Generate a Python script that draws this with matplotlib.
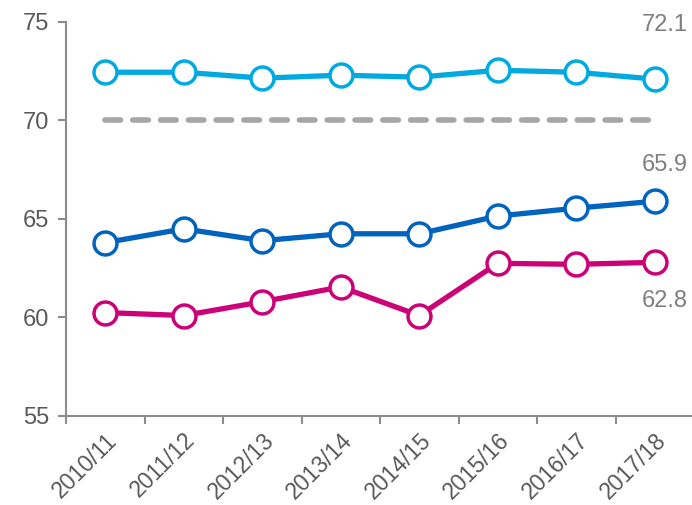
import matplotlib.pyplot as plt
import numpy as np

plt.rcParams['font.family'] = ['Liberation Sans', 'DejaVu Sans']

years = ['2010/11', '2011/12', '2012/13', '2013/14', '2014/15', '2015/16', '2016/17', '2017/18']
light = [72.45, 72.45, 72.15, 72.3, 72.2, 72.55, 72.45, 72.1]
dark = [63.8, 64.5, 63.9, 64.25, 64.25, 65.15, 65.55, 65.9]
pink = [60.25, 60.1, 60.8, 61.55, 60.1, 62.75, 62.7, 62.8]
target = [70] * len(years)

grey = '#7f7f7f'
fig = plt.figure(figsize=(6.92, 5.05), dpi=100)
ax = fig.add_axes([66 / 692, 89 / 505, 628 / 692, 394 / 505])

x = np.arange(len(years))
ax.plot(x, target, color='#a6a6a6', lw=4, dashes=(2.8, 2.2), dash_capstyle='round')
for vals, col in [(light, '#00a9e0'), (dark, '#0063be'), (pink, '#cc0077')]:
    ax.plot(x, vals, color=col, lw=3.8, marker='o', ms=16.5, mfc='white', mec=col, mew=2.5,
            solid_capstyle='round', clip_on=False)

for vals, dy in [(light, 39), (dark, 26), (pink, -28)]:
    ax.annotate(f'{vals[-1]:.1f}', (x[-1], vals[-1]), xytext=(24, dy), textcoords='offset points',
                ha='right', va='center', color=grey, fontsize=17)

ax.set_xlim(-0.5, len(years) - 0.5)
ax.set_ylim(55, 75)
ax.set_yticks([55, 60, 65, 70, 75])
ax.set_xticks(x - 0.5, minor=False)
ax.set_xticklabels([])
ax.set_xticks(x, minor=True)
ax.set_xticklabels(years, minor=True, rotation=45, ha='right', va='top', rotation_mode='anchor')
ax.tick_params(axis='x', which='minor', length=0, pad=9, labelsize=16.5, labelcolor='#595959')
ax.tick_params(axis='x', which='major', length=6, width=1.5, color='#8c8c8c')
ax.tick_params(axis='y', length=6, width=1.5, color='#8c8c8c', labelsize=17, labelcolor='#595959', pad=6)
for s in ['top', 'right']:
    ax.spines[s].set_visible(False)
for s in ['left', 'bottom']:
    ax.spines[s].set_color('#8c8c8c')
    ax.spines[s].set_linewidth(1.5)

fig.savefig('out.png', dpi=100)
